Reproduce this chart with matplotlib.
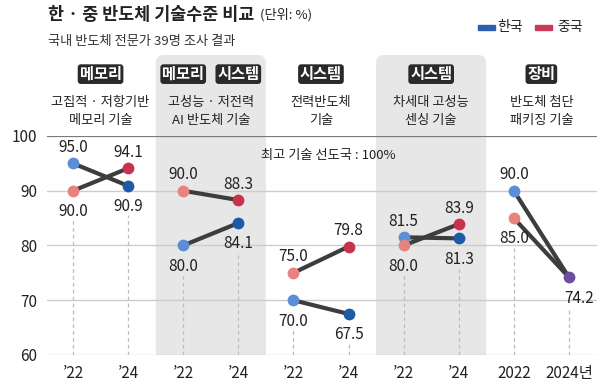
import matplotlib
matplotlib.use('Agg')
import matplotlib.pyplot as plt
from matplotlib.patches import FancyBboxPatch, Rectangle

plt.rcParams['font.family'] = ['Noto Sans CJK KR', 'DejaVu Sans']

# datos del grafico (%)
korea_22 = [95.0, 80.0, 70.0, 81.5, 90.0]
korea_24 = [90.9, 84.1, 67.5, 81.3, 74.2]
china_22 = [90.0, 90.0, 75.0, 80.0, 85.0]
china_24 = [94.1, 88.3, 79.8, 83.9, 74.2]

badges = [['메모리'], ['메모리', '시스템'], ['시스템'], ['시스템'], ['장비']]
topics = [['고집적 · 저항기반', '메모리 기술'],
          ['고성능 · 저전력', 'AI 반도체 기술'],
          ['전력반도체', '기술'],
          ['차세대 고성능', '센싱 기술'],
          ['반도체 첨단', '패키징 기술']]
year_labels = ['’22', '’24', '’22', '’24', '’22', '’24', '’22', '’24', '2022', '2024년']
shaded = [1, 3]

# colores
KR_OLD = '#5b8ed6'
KR_NEW = '#1f5aa6'
CN_OLD = '#e8827f'
CN_NEW = '#c8324f'
TIE = '#6a4f9e'
LINE = '#3d3d3d'
SHADE = '#e7e7e7'
TXT = '#222222'

W, H = 606, 387
fig = plt.figure(figsize=(W / 100, H / 100), dpi=100)
ax = fig.add_axes([47 / W, 1 - 355 / H, 550 / W, 219 / H])
ax.set_xlim(-0.472, 9.51)
ax.set_ylim(60, 100)
for s in ax.spines.values():
    s.set_visible(False)

# fondo gris de los grupos
for g in shaded:
    box = FancyBboxPatch((2 * g - 0.5, 60), 2, 54.8,
                         boxstyle='round,pad=0,rounding_size=0.15',
                         mutation_aspect=10.05, fc=SHADE, ec='none',
                         zorder=0, clip_on=False)
    ax.add_patch(box)
    ax.add_patch(Rectangle((2 * g - 0.5, 60), 2, 10, fc=SHADE, ec='none',
                           zorder=0, clip_on=False))

# lineas horizontales
for v in [60, 70, 80, 90, 100]:
    if v == 100:
        ax.axhline(v, color='#7a7a7a', lw=1.6, zorder=1)
    else:
        ax.axhline(v, color='#cccccc', lw=1.0, zorder=1)

ax.set_yticks([60, 70, 80, 90, 100])
ax.set_yticklabels(['60', '70', '80', '90', '100'])
ax.set_xticks(range(10))
ax.set_xticklabels(year_labels)
ax.tick_params(axis='both', length=0, labelsize=11, colors=TXT)
ax.tick_params(axis='x', pad=7)
ax.tick_params(axis='y', pad=7)


def put_label(x, y, where, dx=0.0):
    if where == 'above':
        off = 11.5
    else:
        off = -15
    ax.annotate(f'{y:.1f}', (x, y), xytext=(dx, off), textcoords='offset points',
                ha='center', va='center', fontsize=11, color=TXT, zorder=6)


for i in range(5):
    x0, x1 = 2 * i, 2 * i + 1
    ax.plot([x0, x1], [korea_22[i], korea_24[i]], color=LINE, lw=3, zorder=3)
    ax.plot([x0, x1], [china_22[i], china_24[i]], color=LINE, lw=3, zorder=3)

    ax.plot(x0, korea_22[i], 'o', ms=8.5, color=KR_OLD, mec='none', zorder=4)
    ax.plot(x0, china_22[i], 'o', ms=8.5, color=CN_OLD, mec='none', zorder=4)
    if korea_24[i] == china_24[i]:
        ax.plot(x1, korea_24[i], 'o', ms=8.5, color=TIE, mec='none', zorder=4)
    else:
        ax.plot(x1, korea_24[i], 'o', ms=8.5, color=KR_NEW, mec='none', zorder=4)
        ax.plot(x1, china_24[i], 'o', ms=8.5, color=CN_NEW, mec='none', zorder=4)

    for x, k, c in [(x0, korea_22[i], china_22[i]), (x1, korea_24[i], china_24[i])]:
        if k > c:
            put_label(x, k, 'above')
            put_label(x, c, 'below')
        elif c > k:
            put_label(x, c, 'above')
            put_label(x, k, 'below')
        else:
            put_label(x, k, 'below', dx=7)
        # linea punteada hasta el eje
        ax.plot([x, x], [60, min(k, c) - 5.4], color='#bdbdbd', lw=0.9,
                ls=(0, (3, 2.5)), zorder=2)

    # cabecera de cada grupo
    if len(badges[i]) == 1:
        bx = [2 * i + 0.5]
    else:
        bx = [x0, x1]
    for b, xb in zip(badges[i], bx):
        ax.text(xb, 111.3, b, ha='center', va='center', fontsize=11,
                fontweight='bold', color='white', clip_on=False,
                bbox=dict(boxstyle='round,pad=0.12,rounding_size=0.2',
                          fc='#2a2a2a', ec='none'))
    ax.text(2 * i + 0.5, 106.2, topics[i][0], ha='center', va='center',
            fontsize=9.5, color=TXT, clip_on=False)
    ax.text(2 * i + 0.5, 102.9, topics[i][1], ha='center', va='center',
            fontsize=9.5, color=TXT, clip_on=False)

ax.text(4.63, 96.5, '최고 기술 선도국 : 100%', ha='center', va='center',
        fontsize=9.5, color=TXT)

# titulo
title = fig.text(48 / W, 1 - 15 / H, '한 · 중 반도체 기술수준 비교', ha='left',
                 va='center', fontsize=12.5, fontweight='bold', color=TXT)
ax.annotate('(단위: %)', xy=(1, 0.5), xycoords=title, xytext=(4, 0),
            textcoords='offset points', ha='left', va='center',
            fontsize=9.5, color=TXT, annotation_clip=False)
fig.text(48 / W, 1 - 42 / H, '국내 반도체 전문가 39명 조사 결과', ha='left',
         va='center', fontsize=9.5, color='#333333')

# leyenda
fig.add_artist(Rectangle((478 / W, 1 - 29.5 / H), 17 / W, 5 / H,
                         transform=fig.transFigure, color='#2d5fb0'))
fig.text(497 / W, 1 - 27 / H, '한국', ha='left', va='center', fontsize=10, color=TXT)
fig.add_artist(Rectangle((535 / W, 1 - 29.5 / H), 17 / W, 5 / H,
                         transform=fig.transFigure, color='#c83a55'))
fig.text(557 / W, 1 - 27 / H, '중국', ha='left', va='center', fontsize=10, color=TXT)

fig.savefig('out.png', dpi=100)
